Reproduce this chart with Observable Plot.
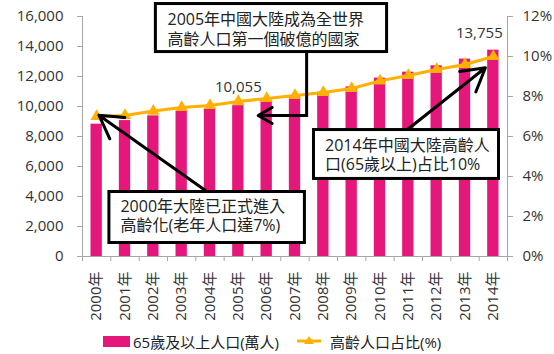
<!DOCTYPE html>
<html><head><meta charset="utf-8">
<script src="https://cdn.jsdelivr.net/npm/d3@7"></script>
<script src="https://cdn.jsdelivr.net/npm/@observablehq/plot@0.6"></script>
<style>
body{margin:0;background:#fff;font-family:"Open Sans","Noto Sans CJK TC",sans-serif;}
#legend{position:relative;height:26px;font-size:15px;color:#222;}
#legend .it{position:absolute;top:0;height:26px;display:flex;align-items:center;white-space:nowrap;}
</style></head><body><div id="chart"></div><div id="legend"></div>
<script>
// ---- data ----
const years = [2000,2001,2002,2003,2004,2005,2006,2007,2008,2009,2010,2011,2012,2013,2014];
const pop65 = [8821,9062,9377,9692,9857,10055,10419,10636,10956,11307,11894,12288,12714,13161,13755];
const agedShare = [7.0,7.05,7.27,7.45,7.55,7.75,7.9,8.05,8.2,8.4,8.78,9.05,9.35,9.6,10.0];
const leftTicks = [0,2000,4000,6000,8000,10000,12000,14000,16000];
const rightTicks = [0,2,4,6,8,10,12];
const seriesNames = ["65歲及以上人口(萬人)","高齡人口占比(%)"];
const noteTexts = [
  "2005年中國大陸成為全世界\n高齡人口第一個破億的國家",
  "2000年大陸已正式進入\n高齡化(老年人口達7%)",
  "2014年中國大陸高齡人\n口(65歲以上)占比10%"
];

// ---- annotation layout (data units) ----
const noteBoxes = [
  {x1:2002.09,x2:2010.25,y1:13630,y2:16830,tx:2002.5,ty:15180,text:noteTexts[0]},
  {x1:2000.45,x2:2007.35,y1:900,y2:4300,tx:2000.84,ty:2760,text:noteTexts[1]},
  {x1:2007.67,x2:2014.2,y1:5170,y2:8430,tx:2008.06,ty:6790,text:noteTexts[2]}
];
const arrows = [
  {x1:2003.84,y1:4400,x2:2000.08,y2:9420},
  {x1:2010.97,y1:8470,x2:2013.72,y2:12580},
  {x1:2007.41,y1:9400,x2:2005.7,y2:9400}
];
const elbow = [{x:2007.41,y:13630},{x:2007.41,y:9400}];

const PINK = "#E6177A", ORANGE = "#FFB000", GRID = "#A6A6A6", TXT = "#333";
const FONT = '"Open Sans","Noto Sans CJK TC",sans-serif';
const YMAX = 16000, PMAX = 12;
const toY = p => p * YMAX / PMAX;

const data = years.map((y,i)=>({year:y, pop:pop65[i], share:agedShare[i]}));
const bounds = d3.range(years.length+1).map(i => years[0]-0.5+i);

const chart = Plot.plot({
  width:554, height:328,
  marginLeft:82, marginRight:47, marginTop:16, marginBottom:72,
  style:{fontFamily:FONT, fontSize:"15px", color:TXT, background:"#fff"},
  x:{type:"linear", domain:[years[0]-0.5, years[years.length-1]+0.5], axis:null},
  y:{domain:[0,YMAX], axis:null},
  marks:[
    Plot.rectY(data,{x1:d=>d.year-0.2, x2:d=>d.year+0.2, y1:0, y2:"pop", fill:PINK}),
    Plot.ruleX([bounds[0], bounds[bounds.length-1]],{y1:0,y2:YMAX,stroke:GRID,strokeWidth:1}),
    Plot.ruleY([0],{stroke:GRID,strokeWidth:1}),
    Plot.axisY(leftTicks,{anchor:"left",tickSize:5,tickPadding:14,stroke:GRID,fill:TXT,fontSize:15,tickFormat:d3.format(","),label:null}),
    Plot.axisY(rightTicks.map(toY),{anchor:"right",tickSize:5,tickPadding:10,stroke:GRID,fill:TXT,fontSize:15,tickFormat:v=>Math.round(v*PMAX/YMAX)+"%",label:null}),
    Plot.axisX(bounds,{anchor:"bottom",tickSize:5,stroke:GRID,tickFormat:()=>"",label:null}),
    Plot.axisX(years,{anchor:"bottom",tickSize:0,tickPadding:15,tickRotate:-90,fill:TXT,fontSize:15,tickFormat:d=>d+"年",label:null}),
    Plot.line(data,{x:"year",y:d=>toY(d.share),stroke:ORANGE,strokeWidth:3}),
    Plot.dot(data,{x:"year",y:d=>toY(d.share),symbol:"triangle",r:4.6,fill:ORANGE}),
    Plot.line(elbow,{x:"x",y:"y",stroke:"#000",strokeWidth:3,strokeLinecap:"square"}),
    Plot.arrow(arrows,{x1:"x1",y1:"y1",x2:"x2",y2:"y2",stroke:"#000",strokeWidth:3,headLength:13,bend:0}),
    Plot.rect(noteBoxes,{x1:"x1",x2:"x2",y1:"y1",y2:"y2",fill:"#fff",stroke:"#000",strokeWidth:3}),
    Plot.text(noteBoxes,{x:"tx",y:"ty",text:"text",textAnchor:"start",lineAnchor:"middle",lineHeight:1.2,fontSize:16,fill:"#222"}),
    Plot.text(data.filter(d=>d.year===2005),{x:"year",y:"pop",text:d=>d3.format(",")(d.pop),dy:-18,fontSize:15,fill:TXT}),
    Plot.text(data.filter(d=>d.year===2014),{x:"year",y:"pop",text:d=>d3.format(",")(d.pop),dy:-17,dx:-14,fontSize:15,fill:TXT})
  ]
});
document.getElementById("chart").appendChild(chart);

const lg = document.getElementById("legend");
lg.innerHTML = `
<div class="it" style="left:103px"><span style="display:inline-block;width:27px;height:11px;background:${PINK};margin-right:3px"></span>${seriesNames[0]}</div>
<div class="it" style="left:297px"><svg width="24" height="14" style="margin-right:9px"><line x1="0" y1="7" x2="24" y2="7" stroke="${ORANGE}" stroke-width="3"/><path d="M12,2 L17,10 L7,10 Z" fill="${ORANGE}"/></svg>${seriesNames[1]}</div>`;
</script></body></html>
